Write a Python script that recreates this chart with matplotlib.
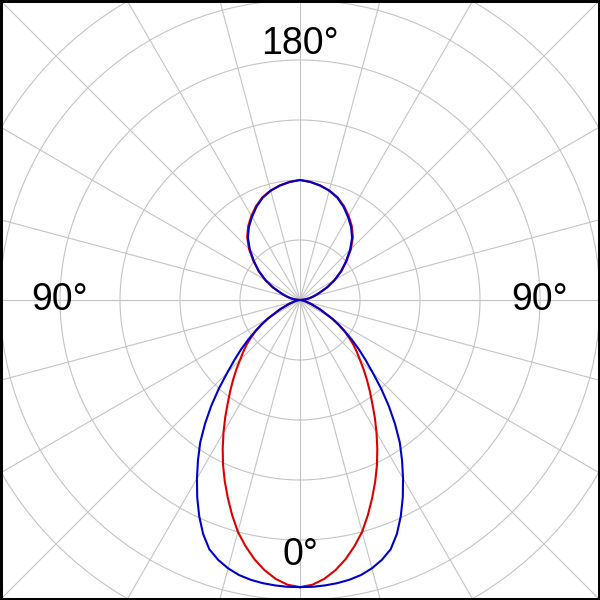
import numpy as np
import matplotlib
matplotlib.use("Agg")
import matplotlib.pyplot as plt
from matplotlib.patches import Rectangle

# angles measured from 0 deg (bottom) to 180 deg (top), one half of a symmetric pattern
angles = [0, 2.5, 5, 7.5, 10, 12.5, 15, 17.5, 20, 22.5, 25, 27.5, 30, 32.5, 35, 37.5,
          40, 42.5, 45, 47.5, 50, 52.5, 55, 57.5, 60, 65, 70, 75, 80, 85, 90,
          95, 100, 105, 110, 115, 120, 125, 130, 135, 140, 145, 150, 155, 160,
          165, 170, 175, 180]

blue_r = [0.957, 0.957, 0.955, 0.952, 0.947, 0.939, 0.926, 0.908, 0.884, 0.844,
          0.795, 0.742, 0.687, 0.633, 0.580, 0.520, 0.460, 0.400, 0.343, 0.297,
          0.257, 0.218, 0.183, 0.152, 0.123, 0.073, 0.040, 0.020, 0.010, 0.003,
          0.0,
          0.014, 0.030, 0.047, 0.068, 0.100, 0.133, 0.167, 0.200, 0.236, 0.270,
          0.297, 0.320, 0.343, 0.363, 0.377, 0.387, 0.395, 0.400]

red_r = [0.957, 0.950, 0.933, 0.908, 0.877, 0.840, 0.800, 0.752, 0.703, 0.655,
         0.607, 0.558, 0.510, 0.464, 0.420, 0.382, 0.347, 0.314, 0.283, 0.257,
         0.233, 0.206, 0.180, 0.152, 0.123, 0.073, 0.040, 0.020, 0.010, 0.003,
         0.0,
         0.014, 0.030, 0.047, 0.068, 0.100, 0.134, 0.169, 0.203, 0.240, 0.274,
         0.301, 0.324, 0.346, 0.365, 0.378, 0.388, 0.395, 0.400]

angle_labels = ["0°", "90°", "180°", "90°"]


def mirror(a, r):
    a = np.array(a, dtype=float)
    r = np.array(r, dtype=float)
    full_a = np.concatenate([a, 360 - a[::-1][1:]])
    full_r = np.concatenate([r, r[::-1][1:]])
    return np.deg2rad(full_a), full_r


fig = plt.figure(figsize=(6, 6), dpi=100)
ax = fig.add_axes([-0.25, -0.25, 1.5, 1.5], projection="polar")
ax.set_theta_zero_location("S")
ax.set_ylim(0, 1.5)

ax.set_thetagrids(np.arange(0, 360, 15), labels=[""] * 24)
ax.set_rgrids([0.2, 0.4, 0.6, 0.8, 1.0, 1.15], labels=[""] * 6)
ax.grid(True, color="#c4c4c4", linewidth=0.8)
ax.spines["polar"].set_visible(False)
ax.tick_params(length=0)

th, r = mirror(angles, red_r)
ax.plot(th, r, color="#dd0000", linewidth=1.5)
th, r = mirror(angles, blue_r)
ax.plot(th, r, color="#0000cc", linewidth=1.5)

# angle labels
lab_font = dict(fontsize=27, family=["Liberation Sans", "DejaVu Sans"],
                ha="center", va="center")
ax.text(0, 0.85, angle_labels[0], **lab_font)
ax.text(np.pi / 2, 0.80, angle_labels[1], **lab_font)
ax.text(np.pi, 0.855, angle_labels[2], **lab_font)
ax.text(3 * np.pi / 2, 0.80, angle_labels[3], **lab_font)

fig.patches.append(Rectangle((0, 0), 1, 1, transform=fig.transFigure,
                             fill=False, edgecolor="black", linewidth=3.6))

fig.savefig("out.png", dpi=100)
